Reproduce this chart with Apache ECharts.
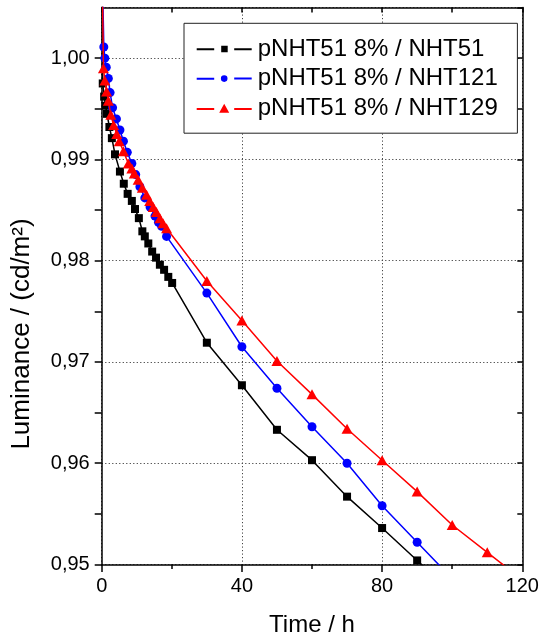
<!DOCTYPE html>
<html>
<head>
<meta charset="utf-8">
<script src="https://cdn.jsdelivr.net/npm/echarts@6.0.0/dist/echarts.min.js"></script>
<style>
html,body{margin:0;padding:0;background:#fff;}
#chart{width:541px;height:639px;}
</style>
</head>
<body>
<div id="chart"></div>
<script>
// ---- data ----
const seriesNames = ['pNHT51 8% / NHT51', 'pNHT51 8% / NHT121', 'pNHT51 8% / NHT129'];

const timeBlack = [0, 0.3, 0.7, 1.1, 1.5, 2.2, 2.9, 3.8, 5.2, 6.3, 7.4, 8.6, 9.5, 10.6, 11.6, 12.3, 13.3, 14.4, 15.5, 16.6, 17.8, 19.0, 20.1, 30, 40, 50, 60, 70, 80, 90, 100];
const lumBlack  = [1.012, 0.9975, 0.9962, 0.9953, 0.9945, 0.9932, 0.9921, 0.9905, 0.9888, 0.9876, 0.9866, 0.9859, 0.9851, 0.9842, 0.9829, 0.9824, 0.9817, 0.9809, 0.9803, 0.9796, 0.9791, 0.9784, 0.9778, 0.9719, 0.9677, 0.9633, 0.9603, 0.9567, 0.9536, 0.9504, 0.9472];

const timeBlue = [0, 0.6, 0.9, 1.3, 1.9, 2.4, 3.1, 4.2, 5.2, 6.2, 7.3, 8.6, 9.7, 10.9, 12.3, 13.8, 15.2, 16.2, 17.1, 18.5, 30, 40, 50, 60, 70, 80, 90, 100];
const lumBlue  = [1.012, 1.0011, 1.0000, 0.9991, 0.9980, 0.9966, 0.9951, 0.9940, 0.9929, 0.9918, 0.9907, 0.9896, 0.9885, 0.9873, 0.9862, 0.9853, 0.9844, 0.9838, 0.9834, 0.9824, 0.9768, 0.9715, 0.9674, 0.9636, 0.9600, 0.9558, 0.9522, 0.9486];

const timeRed = [0, 0.5, 0.9, 1.4, 1.9, 2.6, 3.4, 4.3, 5.0, 6.2, 7.6, 8.6, 9.3, 10.4, 11.6, 12.8, 13.7, 14.7, 15.6, 16.6, 17.5, 18.5, 30, 40, 50, 60, 70, 80, 90, 100, 110, 120];
const lumRed  = [1.012, 0.9990, 0.9978, 0.9967, 0.9958, 0.9944, 0.9934, 0.9925, 0.9918, 0.9908, 0.9896, 0.9891, 0.9886, 0.9880, 0.9872, 0.9865, 0.9859, 0.9853, 0.9848, 0.9842, 0.9837, 0.9832, 0.9780, 0.9741, 0.9701, 0.9668, 0.9634, 0.9603, 0.9572, 0.9539, 0.9512, 0.9485];

const xTicks = [0, 40, 80, 120];
const yTicks = [0.95, 0.96, 0.97, 0.98, 0.99, 1.00];
const xTitle = 'Time / h';
const yTitle = 'Luminance / (cd/m²)';

// ---- chart ----
const FONT = '"Liberation Sans", Arial, Helvetica, sans-serif';
const pairs = (t, v) => t.map((x, i) => [x, v[i]]);
const fmtY = v => {
  const k = Math.round(v * 100);
  if (Math.abs(v * 100 - k) > 1e-6) return '';
  return (k / 100).toFixed(2).replace('.', ',');
};

const X_MIN = xTicks[0], X_MAX = xTicks[xTicks.length - 1];
const Y_MIN = yTicks[0], Y_MAX = 1.005;

const iconLineL = 'M0,2.5L17.5,2.5L17.5,4.5L0,4.5Z';
const iconLineR = 'M37.5,2.5L55,2.5L55,4.5L37.5,4.5Z';
const icons = [
  'path://' + iconLineL + ' M24.5,0L31,0L31,6.5L24.5,6.5Z ' + iconLineR,
  'path://' + iconLineL + ' M24.2,3.3A3.3,3.3,0,1,0,30.8,3.3A3.3,3.3,0,1,0,24.2,3.3Z ' + iconLineR.replace(/2\.5/g,'2.3').replace(/4\.5/g,'4.3'),
  'path://M0,4.4L17.5,4.4L17.5,6.4L0,6.4Z M27.5,0L32.5,9L22.5,9Z M37.5,4.4L55,4.4L55,6.4L37.5,6.4Z'
];

const chart = echarts.init(document.getElementById('chart'), null, {renderer: 'canvas'});
const axisLineStyle = {color: '#000', width: 1.5};

chart.setOption({
  animation: false,
  backgroundColor: '#fff',
  textStyle: {fontFamily: FONT},
  grid: {left: 101.7, right: 18.7, top: 7.5, bottom: 74.5, containLabel: false, outerBoundsMode: 'none'},
  legend: {
    data: seriesNames.map((n, i) => ({name: n, icon: icons[i]})),
    orient: 'vertical',
    left: 184, top: 23.3,
    padding: [13.7, 19.6, 13, 12.7],
    itemGap: 5.6,
    itemWidth: 55, itemHeight: 10,
    symbolKeepAspect: true,
    itemStyle: {borderWidth: 0},
    selectedMode: false,
    backgroundColor: '#fff',
    borderColor: '#222', borderWidth: 1,
    textStyle: {fontFamily: FONT, fontSize: 24, lineHeight: 24, color: '#000', padding: [0,0,0,1]}
  },
  xAxis: [
    {
      type: 'value', position: 'bottom', min: X_MIN, max: X_MAX, interval: 40,
      name: xTitle, nameLocation: 'middle', nameGap: 49,
      nameTextStyle: {fontFamily: FONT, fontSize: 24, lineHeight: 24, color: '#000'},
      axisLine: {show: true, onZero: false, lineStyle: axisLineStyle},
      axisTick: {show: true, inside: false, length: 7.5, lineStyle: {color: '#000', width: 1.5}},
      minorTick: {show: true, splitNumber: 2, length: 4.5, lineStyle: {color: '#000', width: 1.5}},
      axisLabel: {show: true, margin: 12, fontFamily: FONT, fontSize: 20, color: '#000'},
      splitLine: {show: true, lineStyle: {color: '#444', width: 1, type: [1.2, 2.3]}},
      minorSplitLine: {show: false}
    },
    {
      type: 'value', position: 'top', min: X_MIN, max: X_MAX, interval: 40,
      axisLine: {show: true, onZero: false, lineStyle: axisLineStyle},
      axisTick: {show: true, inside: true, length: 5, lineStyle: {color: '#000', width: 1.5}},
      minorTick: {show: true, splitNumber: 2, length: 5, lineStyle: {color: '#000', width: 1.5}},
      axisLabel: {show: false},
      splitLine: {show: false}
    }
  ],
  yAxis: [
    {
      type: 'value', position: 'left', min: Y_MIN, max: Y_MAX, interval: 0.005,
      axisLine: {show: true, onZero: false, lineStyle: axisLineStyle},
      axisTick: {show: true, inside: false, length: 7, lineStyle: {color: '#000', width: 1.5}},
      axisLabel: {show: true, margin: 12, fontFamily: FONT, fontSize: 20, color: '#000', formatter: fmtY, showMaxLabel: false},
      splitLine: {show: false}
    },
    {
      type: 'value', position: 'right', min: Y_MIN, max: Y_MAX, interval: 0.005,
      axisLine: {show: true, onZero: false, lineStyle: axisLineStyle},
      axisTick: {show: true, inside: true, length: 5, lineStyle: {color: '#000', width: 1.5}},
      axisLabel: {show: false},
      splitLine: {show: false}
    },
    {
      type: 'value', position: 'left', min: Y_MIN, max: Y_MAX, interval: 0.01,
      axisLine: {show: false}, axisTick: {show: false}, axisLabel: {show: false},
      splitLine: {show: true, lineStyle: {color: '#444', width: 1, type: [1.2, 2.3]}}
    }
  ],
  graphic: [
    {
      type: 'text', x: 22, y: 334, rotation: Math.PI / 2,
      style: {text: yTitle, font: '26px ' + FONT, fill: '#000', align: 'center', verticalAlign: 'middle'}
    }
  ],
  series: [
    {
      name: seriesNames[0], type: 'line', xAxisIndex: 0, yAxisIndex: 0,
      data: pairs(timeBlack, lumBlack), clip: true,
      symbol: 'rect', symbolSize: 8, showSymbol: true, showAllSymbol: true,
      itemStyle: {color: '#000'}, lineStyle: {color: '#000', width: 1.5}, z: 2
    },
    {
      name: seriesNames[1], type: 'line', xAxisIndex: 0, yAxisIndex: 0,
      data: pairs(timeBlue, lumBlue), clip: true,
      symbol: 'circle', symbolSize: 9, showSymbol: true, showAllSymbol: true,
      itemStyle: {color: '#0000ff'}, lineStyle: {color: '#0000ff', width: 1.5}, z: 3
    },
    {
      name: seriesNames[2], type: 'line', xAxisIndex: 0, yAxisIndex: 0,
      data: pairs(timeRed, lumRed), clip: true,
      symbol: 'triangle', symbolSize: [11, 10], showSymbol: true, showAllSymbol: true,
      itemStyle: {color: '#ff0000'}, lineStyle: {color: '#ff0000', width: 1.5}, z: 4
    }
  ]
});
</script>
</body>
</html>
